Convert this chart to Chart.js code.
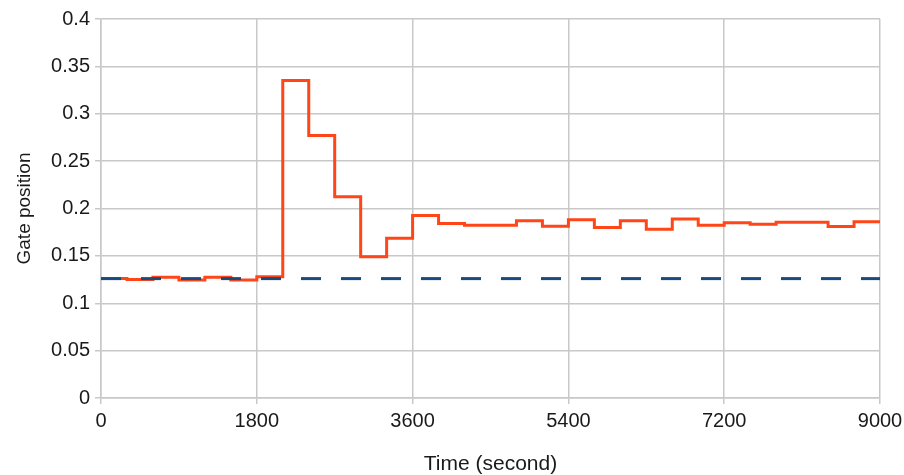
<!DOCTYPE html>
<html>
<head>
<meta charset="utf-8">
<script src="https://cdn.jsdelivr.net/npm/chart.js@4/dist/chart.umd.min.js"></script>
<style>
html,body{margin:0;padding:0;background:#fff;}
#wrap{width:904px;height:475px;position:relative;}
</style>
</head>
<body>
<div id="wrap"><canvas id="c" width="904" height="475"></canvas></div>
<script>
const times = [0,300,600,900,1200,1500,1800,2100,2400,2700,3000,3300,3600,3900,4200,4500,4800,5100,5400,5700,6000,6300,6600,6900,7200,7500,7800,8100,8400,8700,9000];
const gatePosition = [0.126,0.125,0.1274,0.1245,0.1274,0.1245,0.128,0.335,0.277,0.2125,0.149,0.1685,0.1925,0.1843,0.1822,0.1822,0.187,0.1812,0.188,0.180,0.187,0.178,0.189,0.1822,0.185,0.1833,0.1855,0.1855,0.181,0.186,0.186];
const referenceTimes = [0,9000];
const referenceLevel = [0.126,0.126];
const xTicks = [0,1800,3600,5400,7200,9000];

const tickFont = {family:"'Liberation Sans', Arial, sans-serif", size:20};
const xTitleFont = {family:"'Liberation Sans', Arial, sans-serif", size:21};
const yTitleFont = {family:"'Liberation Sans', Arial, sans-serif", size:19};
new Chart(document.getElementById('c'), {
  type:'line',
  data:{
    datasets:[
      {
        label:'Gate position',
        data: times.map((t,i)=>({x:t,y:gatePosition[i]})),
        borderColor:'#ff4619',
        borderWidth:3,
        stepped:'before',
        pointRadius:0,
        fill:false,
        order:2
      },
      {
        label:'Reference',
        data: referenceTimes.map((t,i)=>({x:t,y:referenceLevel[i]})),
        borderColor:'#1b4a7c',
        borderWidth:3,
        borderDash:[20,20],
        pointRadius:0,
        fill:false,
        order:1
      }
    ]
  },
  options:{
    responsive:false,
    animation:false,
    layout:{padding:{left:0,right:24,top:19,bottom:0}},
    plugins:{legend:{display:false},tooltip:{enabled:false}},
    scales:{
      x:{
        type:'linear',
        min:0,max:9000,
        afterBuildTicks:(s)=>{s.ticks = xTicks.map(v=>({value:v}));},
        afterFit:(s)=>{s.height = 77; s.paddingRight = 0; s.paddingLeft = 0;},
        grid:{color:'#c8c8c8',lineWidth:1.5,tickLength:6,drawTicks:true},
        border:{color:'#c8c8c8',width:1.5},
        ticks:{color:'#1a1a1a',font:tickFont,padding:5,maxRotation:0,autoSkip:false,callback:(v)=>String(v)},
        title:{display:true,text:'Time (second)',color:'#1a1a1a',font:xTitleFont,padding:{top:10,bottom:-2}}
      },
      y:{
        min:0,max:0.4,
        ticks:{stepSize:0.05,color:'#1a1a1a',font:tickFont,padding:5,callback:(v)=>String(Math.round(v*100)/100)},
        afterFit:(s)=>{s.width = 101;},
        grid:{color:'#c8c8c8',lineWidth:1.5,tickLength:6},
        border:{color:'#c8c8c8',width:1.5},
        title:{display:true,text:'Gate position',color:'#1a1a1a',font:yTitleFont,padding:{top:13,bottom:0}}
      }
    }
  }
});
</script>
</body>
</html>
